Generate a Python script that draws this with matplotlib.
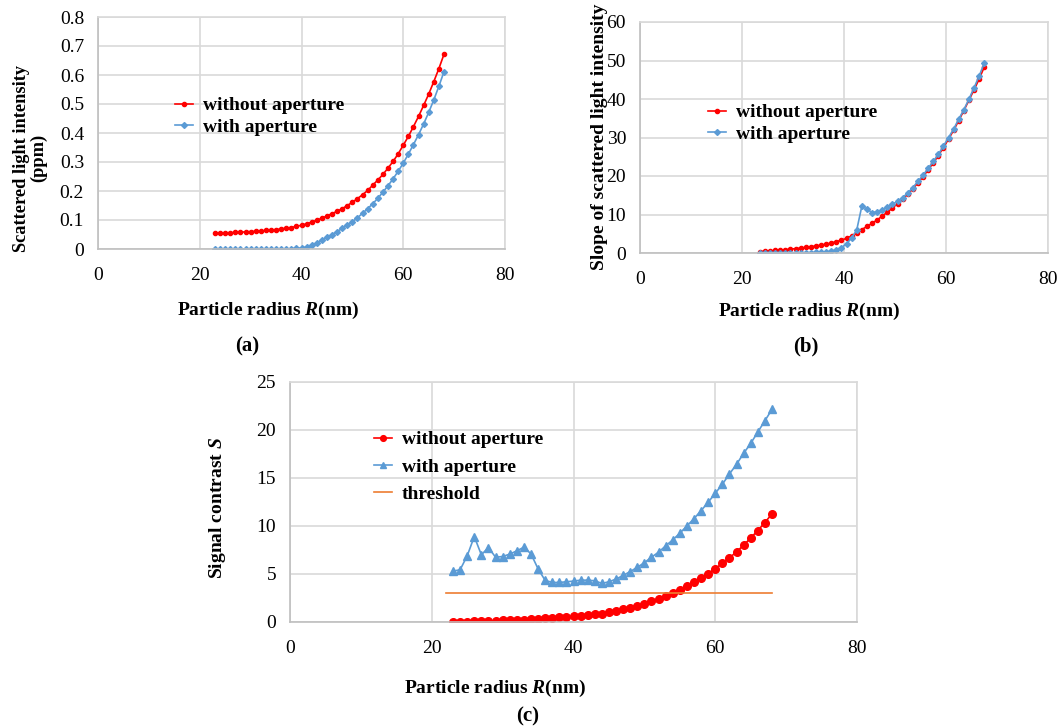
import numpy as np
import matplotlib
matplotlib.use('Agg')
from matplotlib import pyplot as plt

plt.rcParams['font.family'] = ['Liberation Serif', 'DejaVu Serif']
plt.rcParams['mathtext.fontset'] = 'custom'
plt.rcParams['mathtext.rm'] = 'Liberation Serif'
plt.rcParams['mathtext.it'] = 'Liberation Serif:italic'
plt.rcParams['mathtext.bf'] = 'Liberation Serif:bold'
plt.rcParams['mathtext.bfit'] = 'Liberation Serif:italic:bold'

# particle radius (nm)
radius = np.arange(23, 69)
# midpoints used for the slope curves
radius_mid = np.arange(23.5, 68.0, 1.0)

# (a) scattered light intensity, ppm
int_without = [0.055, 0.055, 0.056, 0.056, 0.057, 0.058, 0.059, 0.060, 0.061, 0.062,
               0.064, 0.065, 0.067, 0.069, 0.072, 0.074, 0.078, 0.082, 0.087, 0.093,
               0.099, 0.106, 0.114, 0.122, 0.130, 0.139, 0.150, 0.161, 0.174, 0.187,
               0.202, 0.220, 0.238, 0.257, 0.279, 0.302, 0.328, 0.358, 0.388, 0.422,
               0.457, 0.495, 0.534, 0.577, 0.622, 0.671]
int_with = [0.0, 0.0, 0.0, 0.0, 0.0, 0.0, 0.0, 0.0, 0.0, 0.0,
            0.0, 0.0, 0.0, 0.0, 0.0, 0.001, 0.002, 0.003, 0.007, 0.013,
            0.021, 0.030, 0.040, 0.050, 0.060, 0.071, 0.083, 0.094, 0.108, 0.123,
            0.139, 0.156, 0.175, 0.196, 0.218, 0.242, 0.268, 0.296, 0.327, 0.360,
            0.394, 0.431, 0.471, 0.514, 0.561, 0.611]

# (b) slope of scattered light intensity
slope_without = [0.35, 0.45, 0.55, 0.65, 0.75, 0.87, 1.0, 1.13, 1.28, 1.45,
                 1.63, 1.83, 2.05, 2.3, 2.6, 2.95, 3.35, 3.8, 4.4, 5.2,
                 6.1, 6.9, 7.7, 8.6, 9.6, 10.6, 11.7, 12.8, 14.0, 15.3,
                 16.7, 18.2, 19.8, 21.6, 23.4, 25.3, 27.4, 29.6, 31.9, 34.4,
                 37.0, 39.7, 42.4, 45.2, 48.3]
slope_with = [0.1, 0.1, 0.1, 0.1, 0.1, 0.1, 0.1, 0.1, 0.1, 0.1,
              0.12, 0.14, 0.17, 0.25, 0.45, 0.85, 1.4, 2.4, 3.9, 6.0,
              12.2, 11.4, 10.5, 10.7, 11.1, 11.9, 12.7, 13.4, 14.4, 15.6,
              17.0, 18.6, 20.2, 22.0, 23.8, 25.6, 27.8, 30.0, 32.2, 34.8,
              37.2, 40.0, 42.9, 46.0, 49.3]

# (c) signal contrast S
sig_without = [0.02, 0.03, 0.05, 0.07, 0.09, 0.11, 0.14, 0.16, 0.19, 0.22,
               0.25, 0.29, 0.33, 0.37, 0.42, 0.47, 0.53, 0.59, 0.66, 0.73,
               0.80, 0.88, 1.0, 1.14, 1.31, 1.49, 1.69, 1.90, 2.14, 2.42,
               2.70, 3.01, 3.32, 3.70, 4.12, 4.57, 5.05, 5.57, 6.1, 6.68,
               7.31, 8.0, 8.76, 9.52, 10.36, 11.26]
sig_with = [5.30, 5.44, 6.89, 8.90, 7.0, 7.76, 6.75, 6.82, 7.07, 7.41,
            7.79, 7.10, 5.54, 4.33, 4.12, 4.12, 4.19, 4.26, 4.36, 4.36,
            4.29, 4.02, 4.19, 4.47, 4.85, 5.25, 5.70, 6.18, 6.75, 7.27,
            7.93, 8.55, 9.25, 10.0, 10.77, 11.6, 12.47, 13.41, 14.34, 15.42,
            16.42, 17.57, 18.6, 19.78, 20.96, 22.14]
thr_x = [22, 68]
thr_y = [3, 3]

xticks = [0, 20, 40, 60, 80]
yticks_a = [0, 0.1, 0.2, 0.3, 0.4, 0.5, 0.6, 0.7, 0.8]
ylabels_a = ['0', '0.1', '0.2', '0.3', '0.4', '0.5', '0.6', '0.7', '0.8']
yticks_b = [0, 10, 20, 30, 40, 50, 60]
yticks_c = [0, 5, 10, 15, 20, 25]

RED = '#FF0000'
BLUE = '#5B9BD5'
ORANGE = '#ED7D31'
GRID = '#D9D9D9'
FS = 14

W, H = 1063, 728
fig = plt.figure(figsize=(W/100, H/100), dpi=100)


def px_axes(l, t, r, b):
    return fig.add_axes([l/W, 1 - b/H, (r-l)/W, (b-t)/H])


def style(ax, yt, ylab=None):
    ax.set_xlim(0, 80)
    ax.set_xticks(xticks)
    ax.set_ylim(yt[0], yt[-1])
    ax.set_yticks(yt)
    if ylab is not None:
        ax.set_yticklabels(ylab)
    ax.grid(True, color=GRID, lw=1.2)
    ax.set_axisbelow(True)
    for s in ax.spines.values():
        s.set_color(GRID)
        s.set_linewidth(1.2)
    ax.spines['bottom'].set_color('#BFBFBF')
    ax.spines['left'].set_color('#BFBFBF')
    ax.tick_params(axis='both', length=0, labelsize=FS)
    ax.tick_params(axis='x', pad=13)
    ax.tick_params(axis='y', pad=10)


def add_legend(ax, x, y, spacing, mscale=1.0):
    ax.legend(loc='upper left', bbox_to_anchor=(x/W, 1 - y/H), bbox_transform=fig.transFigure,
              frameon=False, numpoints=1, handlelength=0.95, handletextpad=0.5,
              labelspacing=spacing, borderpad=0, markerscale=mscale,
              prop={'weight': 'bold', 'size': FS})


# (a)
ax1 = px_axes(98, 17, 505, 249)
ax1.plot(radius, int_without, color=RED, lw=1.2, marker='o', ms=3, label='without aperture')
ax1.plot(radius, int_with, color=BLUE, lw=1.2, marker='D', ms=3, label='with aperture')
style(ax1, yticks_a, ylabels_a)
add_legend(ax1, 165, 87, 0.2)
fig.text(30/W, 1 - 158/H, 'Scattered light intensity\n(ppm)', rotation=90, ha='center',
         va='center', fontsize=13.2, fontweight='bold', multialignment='center', linespacing=1.05)
fig.text(268/W, 1 - 310/H, r'Particle radius $\mathbfit{R}$(nm)', ha='center', va='center',
         fontsize=FS, fontweight='bold')
fig.text(247/W, 1 - 346/H, '(a)', ha='center', va='center', fontsize=15, fontweight='bold')

# (b)
ax2 = px_axes(640, 22, 1048, 253)
ax2.plot(radius_mid, slope_without, color=RED, lw=1.2, marker='o', ms=3, label='without aperture')
ax2.plot(radius_mid, slope_with, color=BLUE, lw=1.2, marker='D', ms=3, label='with aperture')
style(ax2, yticks_b)
add_legend(ax2, 698, 94, 0.2)
fig.text(600/W, 1 - 137/H, 'Slope of scattered light intensity', rotation=90, ha='center',
         va='center', fontsize=FS, fontweight='bold')
fig.text(809/W, 1 - 311/H, r'Particle radius $\mathbfit{R}$(nm)', ha='center', va='center',
         fontsize=FS, fontweight='bold')
fig.text(806/W, 1 - 346/H, '(b)', ha='center', va='center', fontsize=15, fontweight='bold')

# (c)
ax3 = px_axes(290, 382, 857, 622)
ax3.plot(radius, sig_without, color=RED, lw=1.2, marker='o', ms=5.5, label='without aperture')
ax3.plot(radius, sig_with, color=BLUE, lw=1.2, marker='^', ms=6, label='with aperture')
ax3.plot(thr_x, thr_y, color=ORANGE, lw=1.2, label='threshold')
style(ax3, yticks_c)
add_legend(ax3, 364, 421, 0.5, mscale=0.75)
fig.text(218/W, 1 - 508/H, r'Signal contrast $\mathbfit{S}$', rotation=90, ha='center',
         va='center', fontsize=FS, fontweight='bold')
fig.text(495/W, 1 - 688/H, r'Particle radius $\mathbfit{R}$(nm)', ha='center', va='center',
         fontsize=FS, fontweight='bold')
fig.text(528/W, 1 - 716/H, '(c)', ha='center', va='center', fontsize=15, fontweight='bold')

fig.savefig('out.png', dpi=100)
